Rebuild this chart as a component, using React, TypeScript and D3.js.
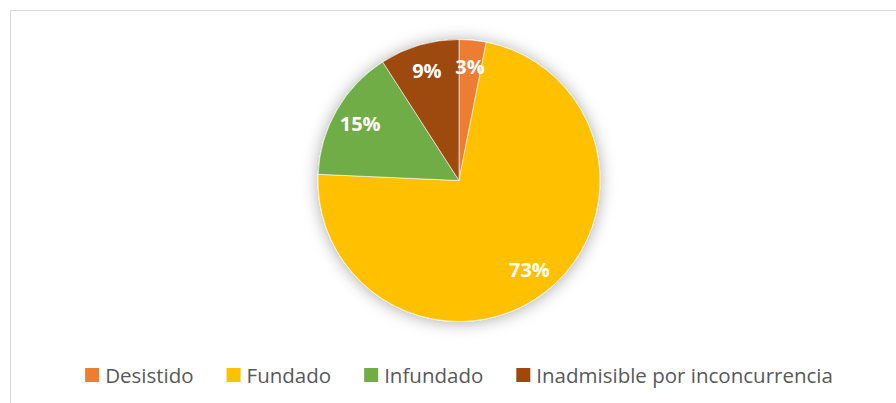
import React, { useEffect, useRef } from 'react'
import * as d3 from 'd3'

// categories and shares (in %)
const categories = ['Desistido', 'Fundado', 'Infundado', 'Inadmisible por inconcurrencia']
const shares = [3.1, 72.6, 15.2, 9.1]
const labels = ['3%', '73%', '15%', '9%']
const colors = ['#ED7D31', '#FFC000', '#70AD47', '#9E480E']

const width = 896,
    height = 403,
    cx = 459,
    cy = 180.5,
    radius = 141

export default function App() {
    const ref = useRef<SVGSVGElement>(null)

    useEffect(() => {
        const svg = d3.select(ref.current)
        svg.selectAll('*').remove()

        // chart frame (runs off the right and bottom of the page)
        svg.append('rect')
            .attr('x', 10.5)
            .attr('y', 10.5)
            .attr('width', 920)
            .attr('height', 420)
            .attr('fill', '#fff')
            .attr('stroke', '#d9d9d9')
            .attr('stroke-width', 1)

        const defs = svg.append('defs')
        const filter = defs.append('filter')
            .attr('id', 'glow')
            .attr('x', '-30%').attr('y', '-30%')
            .attr('width', '160%').attr('height', '160%')
        filter.append('feDropShadow')
            .attr('dx', 0)
            .attr('dy', 1)
            .attr('stdDeviation', 8)
            .attr('flood-color', '#000')
            .attr('flood-opacity', 0.33)

        const pie = d3.pie<number>().sort(null).value(d => d)
        const arcs = pie(shares)
        const arc = d3.arc<d3.PieArcDatum<number>>().innerRadius(0).outerRadius(radius)
        const labelArc = d3.arc<d3.PieArcDatum<number>>().innerRadius(114).outerRadius(114)

        const g = svg.append('g').attr('transform', `translate(${cx},${cy})`)

        g.append('g')
            .attr('filter', 'url(#glow)')
            .selectAll('path')
            .data(arcs)
            .enter()
            .append('path')
            .attr('d', arc)
            .attr('fill', (d, i) => colors[i])
            .attr('stroke', '#fff')
            .attr('stroke-width', 0.6)

        g.selectAll('.lbl')
            .data(arcs)
            .enter()
            .append('text')
            .attr('class', 'lbl')
            .attr('transform', d => `translate(${labelArc.centroid(d)})`)
            .attr('dy', '0.35em')
            .style('text-anchor', 'middle')
            .style('font-family', '"Open Sans", sans-serif')
            .style('font-weight', 700)
            .style('font-size', '20px')
            .style('fill', '#fff')
            .text((d, i) => labels[i])

        // legend, laid out from measured text widths and centred under the pie
        const legend = svg.append('g')
        const items = legend.selectAll('g')
            .data(categories)
            .enter()
            .append('g')
        items.append('rect')
            .attr('width', 14)
            .attr('height', 14)
            .attr('y', 368)
            .attr('fill', (d, i) => colors[i])
        const texts = items.append('text')
            .attr('x', 20)
            .attr('y', 382.5)
            .style('font-family', '"Open Sans", sans-serif')
            .style('font-size', '20.5px')
            .style('fill', '#595959')
            .text(d => d)

        const widths: number[] = []
        texts.each(function () { widths.push((this as SVGTextElement).getComputedTextLength()) })
        const gap = 33
        const total = d3.sum(widths.map(w => 20 + w)) + gap * (widths.length - 1)
        let x = cx - total / 2
        items.attr('transform', (d, i) => {
            const t = `translate(${x},0)`
            x += 20 + widths[i] + gap
            return t
        })
    }, [])

    return (
        <svg ref={ref} width={width} height={height}
            style={{ position: 'absolute', left: 0, top: 0, display: 'block' }} />
    )
}
